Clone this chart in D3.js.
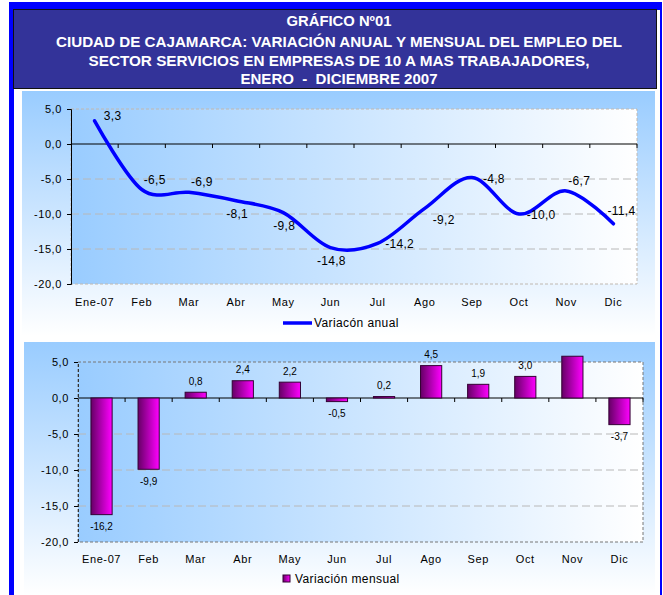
<!DOCTYPE html>
<html>
<head>
<meta charset="utf-8">
<script src="https://cdn.jsdelivr.net/npm/d3@7"></script>
<style>
  body { margin: 0; background: #fff; }
  svg { display: block; font-family: "Liberation Sans", Arial, sans-serif; }
  text.title { white-space: pre; }
</style>
</head>
<body>
<svg id="chart" width="663" height="595"></svg>
<script>
var months = ["Ene-07", "Feb", "Mar", "Abr", "May", "Jun", "Jul", "Ago", "Sep", "Oct", "Nov", "Dic"];
var anual = [3.3, -6.5, -6.9, -8.1, -9.8, -14.8, -14.2, -9.2, -4.8, -10.0, -6.7, -11.4];
var mensual = [-16.2, -9.9, 0.8, 2.4, 2.2, -0.5, 0.2, 4.5, 1.9, 3.0, 5.8, -3.7];
var yTicks = [5, 0, -5, -10, -15, -20];
var titleLines = [
  "GRÁFICO Nº01",
  "CIUDAD DE CAJAMARCA: VARIACIÓN ANUAL Y MENSUAL DEL EMPLEO DEL",
  "SECTOR SERVICIOS EN EMPRESAS DE 10 A MAS TRABAJADORES,",
  "ENERO  -  DICIEMBRE 2007"
];
// where each data label of the line sits relative to its point
var anualLabelPos = ["ene", "ne", "ne", "s", "s", "s", "e", "se", "e", "e", "ne", "nne"];

var svg = d3.select("#chart");
var fmt = function(v) { return d3.format(".1f")(v).replace(".", ",").replace("−", "-"); };

var defs = svg.append("defs");
var g1 = defs.append("linearGradient").attr("id", "panelGrad").attr("x1", 0).attr("y1", 0).attr("x2", 0).attr("y2", 1);
g1.append("stop").attr("offset", "0%").attr("stop-color", "#99ccff");
g1.append("stop").attr("offset", "100%").attr("stop-color", "#ffffff");
var g2 = defs.append("linearGradient").attr("id", "plotGrad").attr("x1", 0).attr("y1", 0).attr("x2", 1).attr("y2", 0);
g2.append("stop").attr("offset", "0%").attr("stop-color", "#99ccff");
g2.append("stop").attr("offset", "100%").attr("stop-color", "#ffffff");
var g3 = defs.append("linearGradient").attr("id", "barGrad").attr("x1", 0).attr("y1", 0).attr("x2", 1).attr("y2", 0);
g3.append("stop").attr("offset", "0%").attr("stop-color", "#660066");
g3.append("stop").attr("offset", "100%").attr("stop-color", "#ff00ff");

// outer frame
svg.append("rect").attr("x", 10).attr("y", 3).attr("width", 651).attr("height", 600)
  .attr("fill", "none").attr("stroke", "#0000ff").attr("stroke-width", 2);
svg.append("rect").attr("x", 10).attr("y", 3).attr("width", 4).attr("height", 592).attr("fill", "#0000ff");
svg.append("rect").attr("x", 10).attr("y", 3).attr("width", 651).attr("height", 7).attr("fill", "#0000ff");

// title block
var titleW = [105, 566, 501, 197];
svg.append("rect").attr("x", 13.5).attr("y", 9.5).attr("width", 643).attr("height", 79)
  .attr("fill", "#333399").attr("stroke", "#111").attr("stroke-width", 1);
svg.selectAll("text.title").data(titleLines).enter().append("text")
  .attr("class", "title")
  .attr("x", 339).attr("y", function(d, i) { return [26, 47, 65.5, 84][i]; })
  .attr("text-anchor", "middle")
  .attr("fill", "#fff").attr("font-weight", "bold").attr("font-size", 14.5)
  .attr("textLength", function(d, i) { return titleW[i]; })
  .attr("lengthAdjust", "spacingAndGlyphs")
  .text(function(d) { return d; });

function panel(opts) {
  var g = svg.append("g");
  g.append("rect").attr("x", opts.px).attr("y", opts.py).attr("width", opts.pw).attr("height", opts.ph)
    .attr("fill", "url(#panelGrad)");

  var x = d3.scaleBand().domain(months).range([opts.left, opts.right]);
  var y = d3.scaleLinear().domain([-20, 5]).range([opts.bottom, opts.top]);

  g.append("rect").attr("x", opts.left).attr("y", opts.top)
    .attr("width", opts.right - opts.left).attr("height", opts.bottom - opts.top)
    .attr("fill", "url(#plotGrad)");

  // grid
  g.selectAll("line.grid").data(yTicks.filter(function(t) { return t !== 0 && t !== 5 && t !== -20; }))
    .enter().append("line")
    .attr("x1", opts.left).attr("x2", opts.right)
    .attr("y1", function(d) { return y(d); }).attr("y2", function(d) { return y(d); })
    .attr("stroke", "#b8b8b8").attr("stroke-dasharray", "8,4");

  // plot border (dotted)
  g.append("rect").attr("x", opts.left).attr("y", opts.top)
    .attr("width", opts.right - opts.left).attr("height", opts.bottom - opts.top)
    .attr("fill", "none").attr("stroke", opts.borderColor).attr("stroke-dasharray", "3,2");

  // y axis
  var yAxis = d3.axisLeft(y).tickValues(yTicks).tickSize(4).tickFormat(fmt);
  var ya = g.append("g").attr("transform", "translate(" + opts.left + ",0)").call(yAxis);
  ya.select(".domain").attr("stroke", opts.solidAxis ? "#000" : "#333")
    .attr("stroke-dasharray", opts.solidAxis ? null : "3,2");
  ya.selectAll("text").attr("font-size", 11).attr("fill", "#000").attr("x", -9)
    .attr("letter-spacing", 0.6)
    .attr("font-family", "Liberation Sans, Arial, sans-serif");

  // x axis at zero
  var xa = g.append("g").attr("transform", "translate(0," + y(0) + ")");
  xa.append("line").attr("x1", opts.left).attr("x2", opts.right).attr("stroke", "#000");
  xa.selectAll("line.tk").data(months.slice(1)).enter().append("line")
    .attr("x1", function(d) { return x(d); }).attr("x2", function(d) { return x(d); })
    .attr("y1", 0).attr("y2", 4).attr("stroke", "#000");
  xa.append("line").attr("x1", opts.right).attr("x2", opts.right).attr("y1", 0).attr("y2", 4).attr("stroke", "#000");

  g.selectAll("text.month").data(months).enter().append("text")
    .attr("x", function(d) { return x(d) + x.bandwidth() / 2; })
    .attr("y", opts.labelY)
    .attr("text-anchor", "middle").attr("dominant-baseline", "central")
    .attr("font-size", 11).attr("letter-spacing", 0.6)
    .text(function(d) { return d; });

  return { g: g, x: x, y: y };
}

// ---- chart 1: annual variation (line)
var c1 = panel({ px: 22, py: 91, pw: 633, ph: 245, left: 71, right: 637, top: 109, bottom: 284,
  labelY: 302, solidAxis: true, borderColor: "#c0b8b0" });
var line = d3.line()
  .x(function(d, i) { return c1.x(months[i]) + c1.x.bandwidth() / 2; })
  .y(function(d) { return c1.y(d); })
  .curve(d3.curveCardinal.tension(0));
c1.g.append("path").datum(anual).attr("d", line)
  .attr("fill", "none").attr("stroke", "#0000ff").attr("stroke-width", 3.5).attr("stroke-linecap", "round");

var offs = { ene: [18, -5], ne: [13, -10], nne: [8, -13], s: [1, 13], e: [22, 1], se: [19, 12] };
c1.g.selectAll("text.val").data(anual).enter().append("text")
  .attr("x", function(d, i) { return c1.x(months[i]) + c1.x.bandwidth() / 2 + offs[anualLabelPos[i]][0]; })
  .attr("y", function(d, i) { return c1.y(d) + offs[anualLabelPos[i]][1]; })
  .attr("text-anchor", "middle").attr("dominant-baseline", "central")
  .attr("font-size", 12).attr("letter-spacing", 0.3)
  .text(fmt);

// legend 1
c1.g.append("line").attr("x1", 283).attr("x2", 312).attr("y1", 323).attr("y2", 323)
  .attr("stroke", "#0000ff").attr("stroke-width", 3.5);
c1.g.append("text").attr("x", 314).attr("y", 323).attr("dominant-baseline", "central")
  .attr("font-size", 12).attr("letter-spacing", 0.4).text("Variacón anual");

// ---- chart 2: monthly variation (bars)
var c2 = panel({ px: 24, py: 342, pw: 631, ph: 253, left: 78, right: 643, top: 362, bottom: 542,
  labelY: 559, solidAxis: false, borderColor: "#777" });
var bw = c2.x.bandwidth() * 0.45;
c2.g.selectAll("rect.bar").data(mensual).enter().append("rect")
  .attr("x", function(d, i) { return c2.x(months[i]) + (c2.x.bandwidth() - bw) / 2; })
  .attr("y", function(d) { return c2.y(Math.max(0, d)); })
  .attr("width", bw)
  .attr("height", function(d) { return Math.abs(c2.y(d) - c2.y(0)); })
  .attr("fill", "url(#barGrad)").attr("stroke", "#330033").attr("stroke-width", 1);

// labels that would fall above the top of the value axis are not shown
c2.g.selectAll("text.val").data(mensual.map(function(v, i) { return { v: v, m: months[i] }; })
    .filter(function(d) { return d.v <= 5; }))
  .enter().append("text")
  .attr("x", function(d) { return c2.x(d.m) + c2.x.bandwidth() / 2; })
  .attr("y", function(d) { return c2.y(d.v) + (d.v >= 0 ? -11 : 12); })
  .attr("text-anchor", "middle").attr("dominant-baseline", "central")
  .attr("font-size", 10)
  .text(function(d) { return fmt(d.v); });

// legend 2
c2.g.append("rect").attr("x", 283).attr("y", 575).attr("width", 7).attr("height", 7)
  .attr("fill", "url(#barGrad)").attr("stroke", "#330033");
c2.g.append("text").attr("x", 295).attr("y", 579).attr("dominant-baseline", "central")
  .attr("font-size", 12).attr("letter-spacing", 0.4).text("Variación mensual");
</script>
</body>
</html>
